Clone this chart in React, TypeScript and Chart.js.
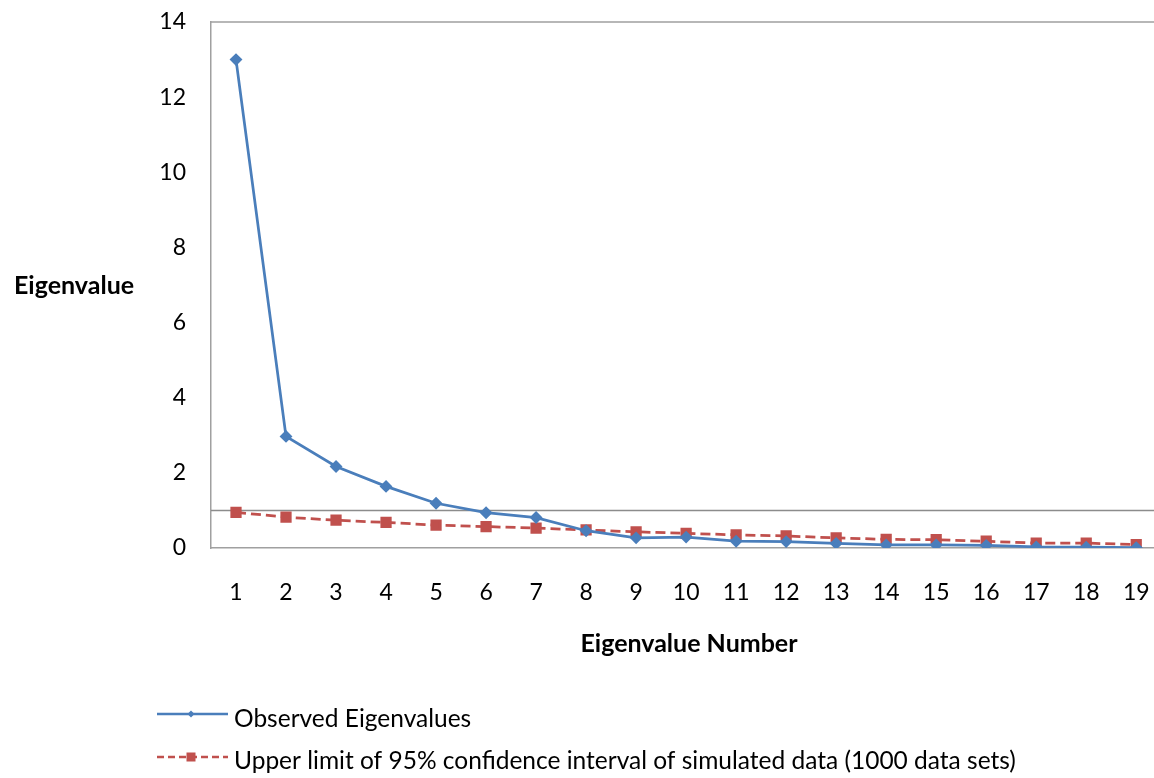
import React, { useEffect, useRef } from "react";
import { Chart, registerables } from "chart.js";

Chart.register(...registerables);

const eigenNumbers = ["1", "2", "3", "4", "5", "6", "7", "8", "9", "10", "11", "12", "13", "14", "15", "16", "17", "18", "19"];
const observedEigenvalues = [13.0, 2.97, 2.17, 1.64, 1.19, 0.94, 0.81, 0.46, 0.27, 0.29, 0.18, 0.17, 0.12, 0.08, 0.08, 0.07, 0.03, 0.02, 0.01];
const upperLimit95 = [0.95, 0.82, 0.74, 0.68, 0.61, 0.57, 0.53, 0.48, 0.43, 0.39, 0.35, 0.32, 0.27, 0.23, 0.22, 0.18, 0.13, 0.13, 0.09];
const yMin = 0;
const yMax = 14;
const yStep = 2;
const referenceValue = 1;
const seriesLabels = [
  "Observed Eigenvalues",
  "Upper limit of 95% confidence interval of simulated data (1000 data sets)",
];
const yTitle = "Eigenvalue";
const xTitle = "Eigenvalue Number";

const BLUE = "#4A7EBB";
const RED = "#C0504D";
const AXIS = "#a0a0a0";
const FONT = "Lato, 'Open Sans', sans-serif";

export default function App() {
  const canvasRef = useRef<HTMLCanvasElement | null>(null);

  useEffect(() => {
    document.body.style.margin = "0";
    const canvas = canvasRef.current;
    if (!canvas) return;

    const decorations = {
      id: "decorations",
      beforeDatasetsDraw(chart: any) {
        const { ctx, chartArea, scales } = chart;
        const y = scales.y.getPixelForValue(referenceValue);
        ctx.save();
        ctx.strokeStyle = "#8c8c8c";
        ctx.lineWidth = 1.5;
        ctx.beginPath();
        ctx.moveTo(chartArea.left, y);
        ctx.lineTo(chartArea.right, y);
        ctx.stroke();
        // top & right border of plot area
        ctx.strokeStyle = AXIS;
        ctx.lineWidth = 1.5;
        ctx.beginPath();
        ctx.moveTo(chartArea.left, chartArea.top);
        ctx.lineTo(chartArea.right, chartArea.top);
        ctx.lineTo(chartArea.right, chartArea.bottom);
        ctx.stroke();
        ctx.restore();
      },
      afterDraw(chart: any) {
        const { ctx } = chart;
        ctx.save();
        ctx.fillStyle = "#000";
        ctx.textBaseline = "middle";
        ctx.font = `bold 25px ${FONT}`;
        ctx.textAlign = "left";
        ctx.fillText(yTitle, 14, 286);
        ctx.textAlign = "center";
        ctx.fillText(xTitle, 689, 644);

        // legend
        const items = chart.data.datasets;
        const lineYs = [714, 757];
        const baseYs = [727, 769];
        items.forEach((ds: any, i: number) => {
          const ly = lineYs[i];
          ctx.save();
          ctx.strokeStyle = ds.borderColor;
          ctx.lineWidth = 2.5;
          ctx.setLineDash(ds.pointStyle === "rect" ? [7, 4] : []);
          ctx.beginPath();
          ctx.moveTo(157, ly);
          ctx.lineTo(228, ly);
          ctx.stroke();
          ctx.setLineDash([]);
          ctx.fillStyle = ds.pointBackgroundColor;
          if (ds.pointStyle === "rect") {
            ctx.fillRect(191 - 4.5, ly - 4.5, 9, 9);
          } else {
            ctx.beginPath();
            ctx.moveTo(191, ly - 3.5);
            ctx.lineTo(194.5, ly);
            ctx.lineTo(191, ly + 3.5);
            ctx.lineTo(187.5, ly);
            ctx.closePath();
            ctx.fill();
          }
          ctx.restore();
          ctx.fillStyle = "#000";
          ctx.font = `24.5px ${FONT}`;
          ctx.textAlign = "left";
          ctx.textBaseline = "alphabetic";
          ctx.fillText(ds.label, 234, baseYs[i]);
        });
        ctx.restore();
      },
    };

    const chart = new Chart(canvas, {
      type: "line",
      data: {
        labels: eigenNumbers,
        datasets: [
          {
            label: seriesLabels[0],
            data: observedEigenvalues,
            borderColor: BLUE,
            backgroundColor: BLUE,
            pointBackgroundColor: BLUE,
            pointBorderColor: BLUE,
            borderWidth: 2.75,
            pointStyle: "rectRot",
            pointRadius: 4.5,
            tension: 0,
          },
          {
            label: seriesLabels[1],
            data: upperLimit95,
            borderColor: RED,
            backgroundColor: RED,
            pointBackgroundColor: RED,
            pointBorderColor: RED,
            borderWidth: 2.75,
            borderDash: [10, 5],
            pointStyle: "rect",
            pointRadius: 6,
            tension: 0,
          },
        ],
      },
      options: {
        responsive: false,
        animation: false,
        layout: { padding: { top: 22, right: 6, left: 0, bottom: 0 } },
        plugins: {
          legend: { display: false },
          tooltip: { enabled: false },
          title: { display: false },
        },
        scales: {
          x: {
            type: "category",
            offset: true,
            grid: { display: false, drawTicks: false },
            border: { display: true, color: AXIS, width: 1.5 },
            ticks: {
              padding: 31,
              color: "#000",
              font: { family: FONT, size: 23 },
              maxRotation: 0,
              autoSkip: false,
            },
            afterFit(scale: any) {
              scale.height = 230;
              scale.paddingLeft = 0;
              scale.paddingRight = 0;
            },
          },
          y: {
            min: yMin,
            max: yMax,
            grid: { display: false, drawTicks: false },
            border: { display: true, color: AXIS, width: 1.5 },
            ticks: {
              stepSize: yStep,
              padding: 25,
              color: "#000",
              font: { family: FONT, size: 23 },
            },
            afterFit(scale: any) {
              scale.width = 211;
              scale.paddingTop = 0;
              scale.paddingBottom = 0;
            },
          },
        },
      },
      plugins: [decorations],
    });

    return () => chart.destroy();
  }, []);

  return (
    <div style={{ width: 1154, height: 778, overflow: "hidden", position: "relative", background: "#fff" }}>
      <canvas ref={canvasRef} width={1170} height={778} style={{ display: "block" }} />
    </div>
  );
}
